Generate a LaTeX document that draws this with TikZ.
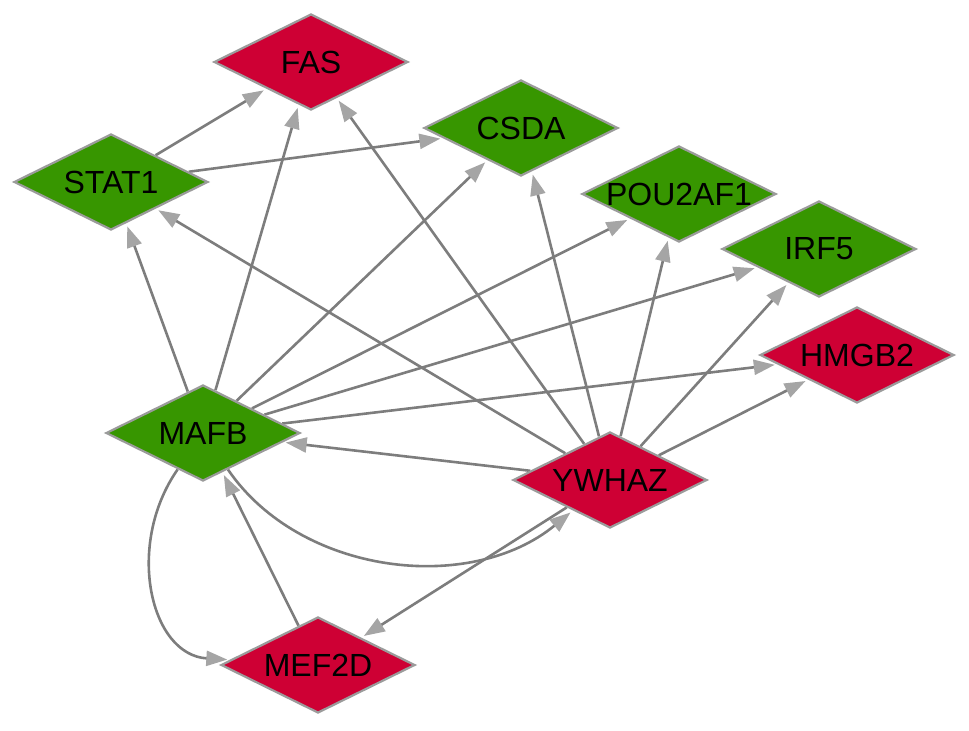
\documentclass[tikz,border=0pt]{standalone}
\usepackage{fontspec}
\setmainfont{Liberation Sans}
\usetikzlibrary{shapes.geometric,arrows.meta,backgrounds}
\definecolor{upred}{RGB}{206,0,52}
\definecolor{downgreen}{RGB}{55,150,0}
\definecolor{nodeborder}{RGB}{155,155,155}
\definecolor{edgegray}{RGB}{125,125,125}
\definecolor{tipgray}{RGB}{165,165,165}
\tikzset{
  gene/.style={diamond, draw=nodeborder, line width=2.2bp, inner sep=0pt,
    minimum width=194bp, minimum height=96bp,
    font=\fontsize{32bp}{36bp}\selectfont, text=black},
  upgene/.style={gene, fill=upred},
  downgene/.style={gene, fill=downgreen},
  link/.style={draw=edgegray, line width=2.6bp, shorten >=3bp,
    -{Triangle[length=21bp,width=15bp,color=tipgray]}},
}
\newcommand{\gname}[1]{\makebox[0pt]{#1}}
\begin{document}
\begin{tikzpicture}[x=1bp,y=-1bp]
\useasboundingbox (0,0) rectangle (969,731);
% nodes
\node[upgene]   (fas)   at (311,62)  {\gname{FAS}};
\node[downgene] (stat1) at (111,182) {\gname{STAT1}};
\node[downgene] (csda)  at (521,128) {\gname{CSDA}};
\node[downgene] (pou)   at (679,194) {\gname{POU2AF1}};
\node[downgene] (irf5)  at (819,249) {\gname{IRF5}};
\node[upgene]   (hmgb2) at (857,355) {\gname{HMGB2}};
\node[downgene] (mafb)  at (203,433) {\gname{MAFB}};
\node[upgene]   (ywhaz) at (610,480) {\gname{YWHAZ}};
\node[upgene]   (mef2d) at (318,665) {\gname{MEF2D}};
% control points of the curved edges
\coordinate (cA1) at (300,575);
\coordinate (cA2) at (470,595);
\coordinate (cB1) at (125,545);
\coordinate (cB2) at (150,655);
% edges
\begin{scope}[on background layer]
\draw[link] (stat1) -- (fas);
\draw[link] (stat1) -- (csda);
\draw[link] (mafb) -- (stat1);
\draw[link] (mafb) -- (fas);
\draw[link] (mafb) -- (csda);
\draw[link] (mafb) -- (pou);
\draw[link] (mafb) -- (irf5);
\draw[link] (mafb) -- (hmgb2);
\draw[link] (ywhaz) -- (stat1);
\draw[link] (ywhaz) -- (fas);
\draw[link] (ywhaz) -- (csda);
\draw[link] (ywhaz) -- (pou);
\draw[link] (ywhaz) -- (irf5);
\draw[link] (ywhaz) -- (hmgb2);
\draw[link] (ywhaz) -- (mafb);
\draw[link] (mafb) .. controls (cA1) and (cA2) .. (ywhaz);
\draw[link] (mafb) .. controls (cB1) and (cB2) .. (mef2d);
\draw[link] (mef2d) -- (mafb);
\draw[link] (ywhaz) -- (mef2d);
\end{scope}
\end{tikzpicture}
\end{document}
